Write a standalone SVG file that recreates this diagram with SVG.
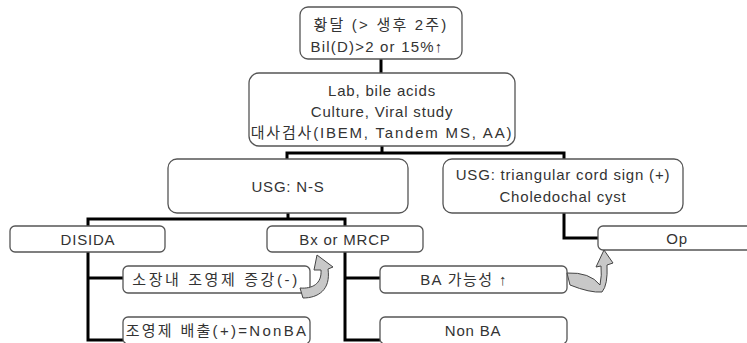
<svg xmlns="http://www.w3.org/2000/svg" width="747" height="343" viewBox="0 0 747 343">
<style>
.box{fill:#fff;stroke:#555;stroke-width:1.3}
.t{font-family:"Liberation Sans","Noto Sans CJK KR",sans-serif;font-size:15px;fill:#333;letter-spacing:0.8px}
.k{letter-spacing:2.2px}
.m{text-anchor:middle}
.c{fill:none;stroke:#000;stroke-width:3;stroke-linejoin:miter}
.ca{fill:#c8c8c8;stroke:#444;stroke-width:1}
</style>
<rect width="747" height="343" fill="#fff"/>
<g id="connectors">
<path class="c" d="M381 59V73"/>
<path class="c" d="M382 146V153M287 159V153H564V159"/>
<path class="c" d="M288 213V219M88 226V219H345V226"/>
<path class="c" d="M564 213V238H598"/>
<path class="c" d="M88 252V340H123M88 278H123"/>
<path class="c" d="M345 252V340H380M345 278H380"/>
</g>
<g id="n1"><rect class="box" x="300" y="7" width="162" height="52" rx="8"/>
<text class="t m k" x="381" y="30">황달 (&gt; 생후 2주)</text>
<text class="t m" x="377" y="52" style="letter-spacing:1.2px">Bil(D)&gt;2 or 15%↑</text></g>
<g id="n2"><rect class="box" x="249" y="73" width="266" height="73" rx="10"/>
<text class="t m" x="382" y="96">Lab, bile acids</text>
<text class="t m" x="382" y="117">Culture, Viral study</text>
<text class="t m" x="382" y="138" style="letter-spacing:1.8px">대사검사(IBEM, Tandem MS, AA)</text></g>
<g id="n3"><rect class="box" x="168" y="159" width="240" height="54" rx="9"/>
<text class="t m" x="288" y="192">USG: N-S</text></g>
<g id="n4"><rect class="box" x="443" y="159" width="240" height="54" rx="9"/>
<text class="t m" x="563" y="180">USG: triangular cord sign (+)</text>
<text class="t m" x="563" y="202">Choledochal cyst</text></g>
<g id="n5"><rect class="box" x="10" y="226" width="155" height="26" rx="5"/>
<text class="t m" x="88" y="245">DISIDA</text></g>
<g id="n6"><rect class="box" x="267" y="226" width="156" height="26" rx="5"/>
<text class="t m" x="345" y="245">Bx or MRCP</text></g>
<g id="n7"><rect class="box" x="598" y="226" width="160" height="24" rx="5"/>
<text class="t m" x="677" y="244">Op</text></g>
<g id="n8"><rect class="box" x="123" y="266" width="187" height="27" rx="5"/>
<text class="t m" x="216" y="285" style="letter-spacing:2.6px">소장내 조영제 증강(-)</text></g>
<g id="n9"><rect class="box" x="123" y="317" width="187" height="27" rx="5"/>
<text class="t m" x="217" y="336" style="letter-spacing:2.3px">조영제 배출(+)=NonBA</text></g>
<g id="n10"><rect class="box" x="380" y="266" width="187" height="27" rx="5"/>
<text class="t m" x="464" y="285" style="letter-spacing:1.4px">BA 가능성 ↑</text></g>
<g id="n11"><rect class="box" x="380" y="317" width="187" height="27" rx="5"/>
<text class="t m" x="473" y="336">Non BA</text></g>
<g id="curved-arrows">
<path class="ca" d="M300 288C312 289 322 284 321 270L314 270L317 255L333 267L328 269C331 290 318 298 303 298Z"/>
<path class="ca" d="M567 273Q590 272 600 285Q602 275 601 266L596 267L604 250L613 263L607 265Q608 285 602 292Q590 293 570 285Z"/>
</g>
</svg>
